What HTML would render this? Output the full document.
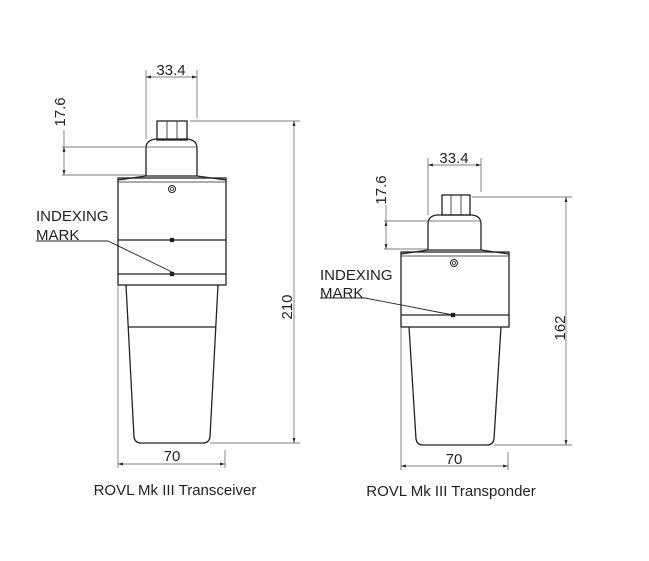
<!DOCTYPE html>
<html><head><meta charset="utf-8"><style>
html,body{margin:0;padding:0;background:#fff;}
svg{display:block;}
text{font-family:"Liberation Sans","DejaVu Sans",sans-serif;fill:#222;}
</style></head><body>
<svg width="649" height="561" viewBox="0 0 649 561" xmlns="http://www.w3.org/2000/svg">
<defs>
<marker id="a" viewBox="0 0 10 10" refX="10" refY="5" markerWidth="7" markerHeight="7" orient="auto-start-reverse"><path d="M0,2 L10,5 L0,8 z" fill="#222"/></marker>
</defs>
<g fill="none" stroke="#222" stroke-width="1.3">
<rect x="157" y="121" width="30" height="19"/>
<line x1="167" y1="121" x2="167" y2="140" stroke-width="0.8"/>
<line x1="177" y1="121" x2="177" y2="140" stroke-width="0.8"/>
<path d="M146,176 L146,148 Q146,140 156,139 L187,139 Q197,140 197,148 L197,176"/>
<path d="M118,180 L146,176 L197,176 L226,180"/>
<rect x="118" y="178" width="108" height="107"/>
<line x1="118" y1="182" x2="226" y2="182" stroke-width="0.8"/>
<line x1="118" y1="240" x2="226" y2="240"/>
<line x1="118" y1="274" x2="226" y2="274"/>
<circle cx="172" cy="189" r="3.5" stroke-width="1"/><circle cx="172" cy="189" r="1.5" stroke-width="0.8"/>
<rect x="170.5" y="238.5" width="3" height="3" fill="#222"/>
<rect x="170.5" y="272.5" width="3" height="3" fill="#222"/>
<path d="M126,285 L134,437 Q135,443 141,443 L203,443 Q209,443 210,437 L218,285"/>
<line x1="128" y1="327" x2="216" y2="327"/>
<path d="M36,241 L108,241 L172,272" stroke-width="0.9"/>
</g>
<g fill="none" stroke="#555" stroke-width="0.7">
<line x1="146" y1="70" x2="146" y2="139"/><line x1="197" y1="70" x2="197" y2="118"/>
<line x1="146" y1="77" x2="197" y2="77" marker-start="url(#a)" marker-end="url(#a)"/>
<line x1="62" y1="147" x2="197" y2="147"/><line x1="62" y1="175" x2="146" y2="175"/>
<line x1="64" y1="147" x2="64" y2="175" marker-start="url(#a)" marker-end="url(#a)"/>
<line x1="64" y1="130" x2="64" y2="147"/>
<line x1="190" y1="121" x2="300" y2="121"/><line x1="210" y1="443" x2="300" y2="443"/>
<line x1="294" y1="121" x2="294" y2="443" marker-start="url(#a)" marker-end="url(#a)"/>
<line x1="118" y1="285" x2="118" y2="468"/><line x1="225" y1="450" x2="225" y2="468"/>
<line x1="118" y1="464" x2="225" y2="464" marker-start="url(#a)" marker-end="url(#a)"/>
</g>
<g fill="none" stroke="#222" stroke-width="1.3">
<rect x="442" y="195" width="28" height="20"/>
<line x1="451" y1="195" x2="451" y2="215" stroke-width="0.8"/>
<line x1="461" y1="195" x2="461" y2="215" stroke-width="0.8"/>
<path d="M428,250 L428,224 Q428,216 437,215 L472,215 Q481,216 481,224 L481,250"/>
<path d="M401,254 L428,250 L481,250 L509,254"/>
<rect x="401" y="252" width="108" height="75"/>
<line x1="401" y1="256" x2="509" y2="256" stroke-width="0.8"/>
<line x1="401" y1="315" x2="509" y2="315"/>
<circle cx="454" cy="263" r="3.5" stroke-width="1"/><circle cx="454" cy="263" r="1.5" stroke-width="0.8"/>
<rect x="451.5" y="313.5" width="3" height="3" fill="#222"/>
<path d="M409,327 L416,439 Q417,445 423,445 L487,445 Q493,445 494,439 L501,327"/>
<path d="M320,298 L365,298 L453,315" stroke-width="0.9"/>
</g>
<g fill="none" stroke="#555" stroke-width="0.7">
<line x1="428" y1="158" x2="428" y2="215"/><line x1="481" y1="158" x2="481" y2="192"/>
<line x1="428" y1="165" x2="481" y2="165" marker-start="url(#a)" marker-end="url(#a)"/>
<line x1="384" y1="221" x2="481" y2="221"/><line x1="384" y1="249" x2="428" y2="249"/>
<line x1="386" y1="221" x2="386" y2="249" marker-start="url(#a)" marker-end="url(#a)"/>
<line x1="386" y1="205" x2="386" y2="221"/>
<line x1="472" y1="197" x2="572" y2="197"/><line x1="494" y1="445" x2="572" y2="445"/>
<line x1="566" y1="197" x2="566" y2="445" marker-start="url(#a)" marker-end="url(#a)"/>
<line x1="401" y1="327" x2="401" y2="470"/><line x1="508" y1="452" x2="508" y2="470"/>
<line x1="401" y1="466" x2="508" y2="466" marker-start="url(#a)" marker-end="url(#a)"/>
</g>
<text x="171" y="75" font-size="15" text-anchor="middle">33.4</text>
<text transform="translate(65,112) rotate(-90)" font-size="15" text-anchor="middle">17.6</text>
<text transform="translate(292,307) rotate(-90)" font-size="15" text-anchor="middle">210</text>
<text x="172" y="461" font-size="15" text-anchor="middle">70</text>
<text x="36" y="221" font-size="15">INDEXING</text>
<text x="36" y="240" font-size="15">MARK</text>
<text x="175" y="495" font-size="15" text-anchor="middle">ROVL Mk III Transceiver</text>

<text x="454" y="163" font-size="15" text-anchor="middle">33.4</text>
<text transform="translate(386,190) rotate(-90)" font-size="15" text-anchor="middle">17.6</text>
<text transform="translate(565,328) rotate(-90)" font-size="15" text-anchor="middle">162</text>
<text x="454" y="464" font-size="15" text-anchor="middle">70</text>
<text x="320" y="280" font-size="15">INDEXING</text>
<text x="320" y="298" font-size="15">MARK</text>
<text x="451" y="496" font-size="15" text-anchor="middle">ROVL Mk III Transponder</text>
</svg>
</body></html>
